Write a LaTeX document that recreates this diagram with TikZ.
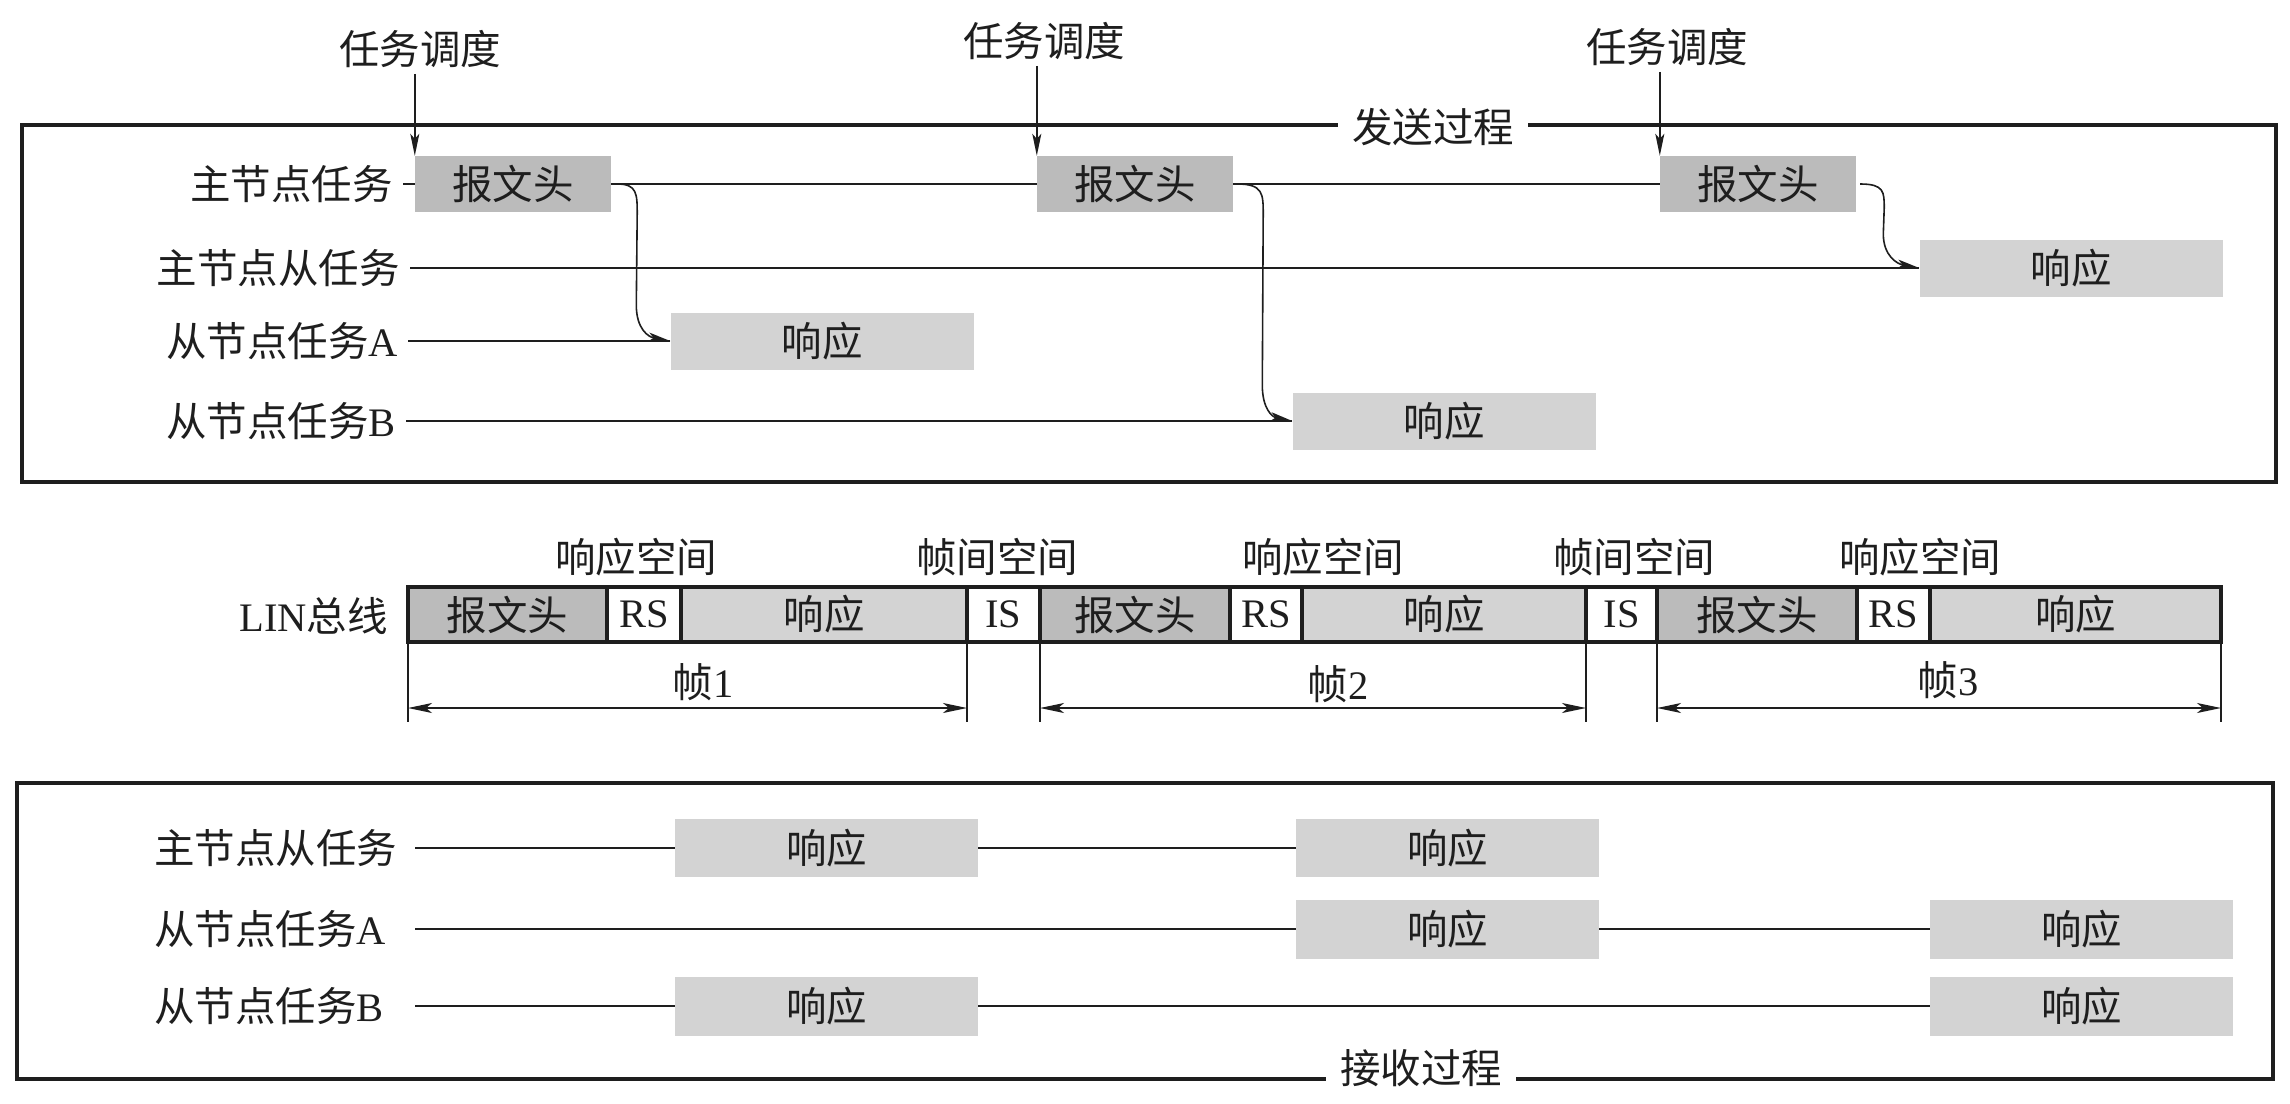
\documentclass[tikz,border=0pt]{standalone}
\usepackage{fontspec}
\setmainfont{Liberation Serif}
\newfontfamily\cjk{Noto Sans CJK SC}
\usetikzlibrary{arrows.meta,calc}
\definecolor{hdr}{RGB}{187,187,187}
\definecolor{rsp}{RGB}{211,211,211}
\definecolor{ink}{RGB}{30,30,30}
\begin{document}
\begin{tikzpicture}[x=1pt,y=-1pt,
  every node/.style={inner sep=0pt, text=ink, font=\fontsize{40.5}{44}\selectfont},
  hbox/.style={fill=hdr, minimum width=196pt, minimum height=56pt},
  rbox/.style={fill=rsp, minimum width=303pt, minimum height=57pt},
  tline/.style={line width=2pt, draw=ink},
  frameline/.style={line width=4pt, draw=ink},
  arr/.style={line width=1.6pt, draw=ink, -{Stealth[length=22pt,width=9pt,inset=5pt]}},
  dimline/.style={line width=1.6pt, draw=ink, {Stealth[length=24pt,width=10pt,inset=6pt]}-{Stealth[length=24pt,width=10pt,inset=6pt]}},
  dimext/.style={line width=1.5pt, draw=ink},
  cell/.style={draw=ink, line width=4.5pt, outer sep=0pt, minimum height=55pt},
  gaplabel/.style={fill=white, inner xsep=14pt, inner ysep=4pt}
]
\useasboundingbox (0,0) rectangle (2290,1103);

% ---------- sending process ----------
\draw[frameline] (22,125) rectangle (2276,482);
\node[gaplabel] (send) at (1433,127) {\cjk 发送过程};

\node[anchor=east] (m1) at (393,184) {\cjk 主节点任务};
\node[anchor=east] (m2) at (400,268) {\cjk 主节点从任务};
\node[anchor=east] (m3) at (398,341) {{\cjk 从节点任务}A};
\node[anchor=east] (m4) at (396,421) {{\cjk 从节点任务}B};

\node[hbox] (h1) at (513,184) {\cjk 报文头};
\node[hbox] (h2) at (1135,184) {\cjk 报文头};
\node[hbox] (h3) at (1758,184) {\cjk 报文头};
\node[rbox] (rA) at (822,341) {\cjk 响应};
\node[rbox] (rB) at (1444,421) {\cjk 响应};
\node[rbox] (rM) at (2071,268) {\cjk 响应};

\draw[tline] ([xshift=10pt]m1.east) -- (h1.west);
\draw[tline] (h1.east) -- (h2.west);
\draw[tline] (h2.east) -- (h3.west);
\draw[tline] ([xshift=10pt]m2.east) -- (rM.west);
\draw[tline] ([xshift=10pt]m3.east) -- (rA.west);
\draw[tline] ([xshift=10pt]m4.east) -- (rB.west);

\node (t1) at (420,49) {\cjk 任务调度};
\node (t2) at (1044,41) {\cjk 任务调度};
\node (t3) at (1667,47) {\cjk 任务调度};
\coordinate (a1) at (h1.north west |- t1.south);
\coordinate (a2) at (h2.north west |- t2.south);
\coordinate (a3) at (h3.north west |- t3.south);
\draw[arr] ([yshift=-6pt]a1) -- (h1.north west);
\draw[arr] ([yshift=-6pt]a2) -- (h2.north west);
\draw[arr] ([yshift=-6pt]a3) -- (h3.north west);

\draw[arr] ($(h1.east)+(6,0)$) .. controls ($(h1.east)+(26,0)$) and ($(h1.east)+(26,10)$) .. ($(h1.east)+(26,30)$)
  -- ($(rA.west)+(-34,-36)$) .. controls ($(rA.west)+(-34,-12)$) and ($(rA.west)+(-22,-4)$) .. (rA.west);
\draw[arr] ($(h2.east)+(4,0)$) .. controls ($(h2.east)+(30,0)$) and ($(h2.east)+(30,10)$) .. ($(h2.east)+(30,30)$)
  -- ($(rB.west)+(-30,-36)$) .. controls ($(rB.west)+(-30,-12)$) and ($(rB.west)+(-20,-4)$) .. (rB.west);
\draw[arr] ($(h3.east)+(4,0)$) .. controls ($(h3.east)+(28,0)$) and ($(h3.east)+(28,8)$) .. ($(h3.east)+(28,24)$)
  -- ($(rM.west)+(-36,-34)$) .. controls ($(rM.west)+(-36,-12)$) and ($(rM.west)+(-22,-4)$) .. (rM.west);

% ---------- LIN bus ----------
\node[anchor=east] (lin) at (388,616) {LIN{\cjk 总线}};
\node[cell, fill=hdr, minimum width=199pt] (b1) at (507.5,614.5) {\cjk 报文头};
\node[cell, fill=white, minimum width=74pt] (b2) at (644,614.5) {RS};
\node[cell, fill=rsp, minimum width=286pt] (b3) at (824,614.5) {\cjk 响应};
\node[cell, fill=white, minimum width=73pt] (b4) at (1003.5,614.5) {IS};
\node[cell, fill=hdr, minimum width=190pt] (b5) at (1135,614.5) {\cjk 报文头};
\node[cell, fill=white, minimum width=72pt] (b6) at (1266,614.5) {RS};
\node[cell, fill=rsp, minimum width=284pt] (b7) at (1444,614.5) {\cjk 响应};
\node[cell, fill=white, minimum width=71pt] (b8) at (1621.5,614.5) {IS};
\node[cell, fill=hdr, minimum width=200pt] (b9) at (1757,614.5) {\cjk 报文头};
\node[cell, fill=white, minimum width=73pt] (b10) at (1893.5,614.5) {RS};
\node[cell, fill=rsp, minimum width=291pt] (b11) at (2075.5,614.5) {\cjk 响应};

\node (g1) at (636,557) {\cjk 响应空间};
\node (g2) at (997,557) {\cjk 帧间空间};
\node (g3) at (1323,557) {\cjk 响应空间};
\node (g4) at (1634,557) {\cjk 帧间空间};
\node (g5) at (1920,557) {\cjk 响应空间};

\draw[dimext] (b1.south west) -- ++(0,80);
\draw[dimext] (b3.south east) -- ++(0,80);
\draw[dimext] (b5.south west) -- ++(0,80);
\draw[dimext] (b7.south east) -- ++(0,80);
\draw[dimext] (b9.south west) -- ++(0,80);
\draw[dimext] (b11.south east) -- ++(0,80);
\draw[dimline] ($(b1.south west)+(0,66)$) -- ($(b3.south east)+(0,66)$);
\draw[dimline] ($(b5.south west)+(0,66)$) -- ($(b7.south east)+(0,66)$);
\draw[dimline] ($(b9.south west)+(0,66)$) -- ($(b11.south east)+(0,66)$);
\node (f1) at (703,682) {{\cjk 帧}1};
\node (f2) at (1338,684) {{\cjk 帧}2};
\node (f3) at (1948,680) {{\cjk 帧}3};

% ---------- receiving process ----------
\draw[frameline] (17,783) rectangle (2273,1079);
\node[gaplabel] (recv) at (1421,1068) {\cjk 接收过程};

\node[anchor=west] (n1) at (154,848) {\cjk 主节点从任务};
\node[anchor=west] (n2) at (154,929) {{\cjk 从节点任务}A};
\node[anchor=west] (n3) at (154,1006) {{\cjk 从节点任务}B};
\coordinate (s1) at (415,848);
\coordinate (s2) at (415,929);
\coordinate (s3) at (415,1006);

\node[rbox, minimum height=58pt] (q1) at (826.5,848) {\cjk 响应};
\node[rbox, minimum height=58pt] (q2) at (1447.5,848) {\cjk 响应};
\node[rbox, minimum height=59pt] (q3) at (1447.5,929) {\cjk 响应};
\node[rbox, minimum height=59pt] (q4) at (2081.5,929) {\cjk 响应};
\node[rbox, minimum height=59pt] (q5) at (826.5,1006) {\cjk 响应};
\node[rbox, minimum height=59pt] (q6) at (2081.5,1006) {\cjk 响应};

\draw[tline] (s1) -- (q1.west);
\draw[tline] (q1.east) -- (q2.west);
\draw[tline] (s2) -- (q3.west);
\draw[tline] (q3.east) -- (q4.west);
\draw[tline] (s3) -- (q5.west);
\draw[tline] (q5.east) -- (q6.west);
\end{tikzpicture}
\end{document}
